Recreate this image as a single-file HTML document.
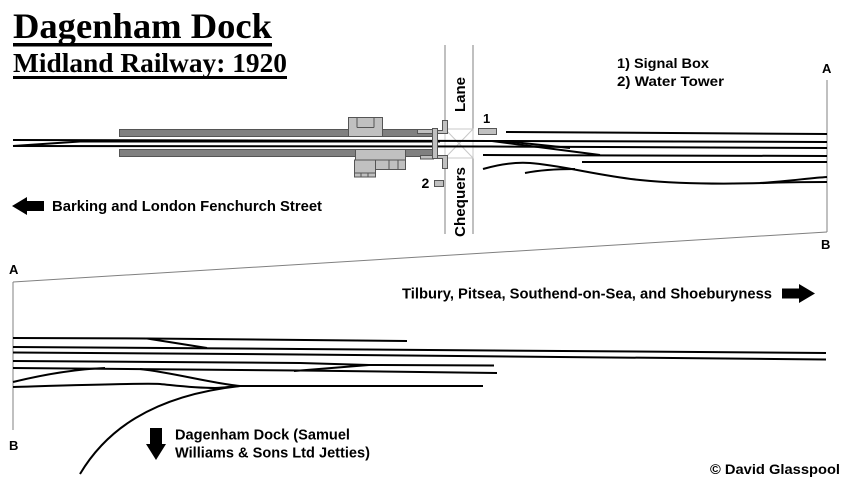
<!DOCTYPE html>
<html>
<head>
<meta charset="utf-8">
<style>
  html, body { margin: 0; padding: 0; background: #fff; }
  svg { display: block; }
  .s { font-family: "Liberation Sans", Arial, sans-serif; font-weight: bold; fill: #000; }
  .t { fill: none; stroke: #000; stroke-width: 2; }
  .f { fill: none; stroke: #808080; stroke-width: 1; }
</style>
</head>
<body>
<svg width="850" height="485" viewBox="0 0 850 485" xmlns="http://www.w3.org/2000/svg">
  <rect width="850" height="485" fill="#fff"/>

  <!-- Titles -->
  <text x="13" y="38" font-family="'Liberation Serif', 'Times New Roman', serif" font-weight="bold" font-size="36" textLength="259" lengthAdjust="spacingAndGlyphs">Dagenham Dock</text>
  <rect x="13" y="43" width="259" height="3.5" fill="#000"/>
  <text x="13" y="72" font-family="'Liberation Serif', 'Times New Roman', serif" font-weight="bold" font-size="27" textLength="274" lengthAdjust="spacingAndGlyphs">Midland Railway: 1920</text>
  <rect x="13" y="76" width="274" height="3" fill="#000"/>

  <!-- Key -->
  <text class="s" x="617" y="68" font-size="14" textLength="92" lengthAdjust="spacingAndGlyphs">1) Signal Box</text>
  <text class="s" x="617" y="86" font-size="14" textLength="107" lengthAdjust="spacingAndGlyphs">2) Water Tower</text>

  <!-- Section markers top -->
  <text class="s" x="822" y="73" font-size="13">A</text>
  <line class="f" x1="827" y1="80" x2="827" y2="232"/>
  <text class="s" x="821" y="249" font-size="13">B</text>
  <line class="f" x1="827" y1="232" x2="13" y2="282"/>
  <text class="s" x="9" y="274" font-size="13">A</text>
  <line class="f" x1="13" y1="282" x2="13" y2="430"/>
  <text class="s" x="9" y="450" font-size="13">B</text>

  <!-- Road: Chequers Lane -->
  <line x1="445" y1="45" x2="445" y2="234" stroke="#808080" stroke-width="1"/>
  <line x1="473" y1="45" x2="473" y2="234" stroke="#808080" stroke-width="1"/>
  <rect x="445" y="129" width="28" height="29" fill="none" stroke="#c8c8c8" stroke-width="1"/>
  <line x1="445" y1="129" x2="473" y2="158" stroke="#c8c8c8" stroke-width="1"/>
  <line x1="473" y1="129" x2="445" y2="158" stroke="#c8c8c8" stroke-width="1"/>
  <text class="s" font-size="15" transform="translate(465,112) rotate(-90)" textLength="35" lengthAdjust="spacingAndGlyphs">Lane</text>
  <text class="s" font-size="15" transform="translate(465,237) rotate(-90)" textLength="70" lengthAdjust="spacingAndGlyphs">Chequers</text>

  <!-- Platforms -->
  <rect x="119.5" y="129.5" width="314" height="7" fill="#808080" stroke="#555" stroke-width="1"/>
  <rect x="119.5" y="149.5" width="314" height="7" fill="#808080" stroke="#555" stroke-width="1"/>
  <!-- Buildings top -->
  <rect x="348.5" y="117.5" width="34" height="19" fill="#c0c0c0" stroke="#555" stroke-width="1"/>
  <line x1="357" y1="117.5" x2="357" y2="127.5" stroke="#555" stroke-width="1"/>
  <line x1="374" y1="117.5" x2="374" y2="127.5" stroke="#555" stroke-width="1"/>
  <line x1="357" y1="127.5" x2="374" y2="127.5" stroke="#555" stroke-width="1"/>
  <!-- Buildings bottom -->
  <rect x="355.5" y="149.5" width="50" height="20" fill="#c0c0c0" stroke="#555" stroke-width="1"/>
  <rect x="354.5" y="160" width="21" height="17" fill="#c0c0c0" stroke="#555" stroke-width="1"/>
  <line x1="375.5" y1="160" x2="405.5" y2="160" stroke="#555" stroke-width="1"/>
  <line x1="389" y1="160" x2="389" y2="169.5" stroke="#555" stroke-width="1"/>
  <line x1="398" y1="160" x2="398" y2="169.5" stroke="#555" stroke-width="1"/>
  <line x1="354.5" y1="173" x2="375.5" y2="173" stroke="#555" stroke-width="1"/>
  <line x1="361" y1="173" x2="361" y2="177" stroke="#555" stroke-width="1"/>
  <line x1="368" y1="173" x2="368" y2="177" stroke="#555" stroke-width="1"/>
  <!-- Station end fittings -->
  <rect x="417.5" y="129.5" width="16" height="4" fill="#c0c0c0" stroke="#555" stroke-width="1"/>
  <rect x="420.5" y="155.5" width="13" height="3.5" fill="#c0c0c0" stroke="#555" stroke-width="1"/>
  <path d="M437.5,130.5 H442.5 V120.5 H447.5 V133.5 H437.5 Z" fill="#c0c0c0" stroke="#555" stroke-width="1"/>
  <path d="M437.5,155.5 H447.5 V168.5 H442.5 V158.5 H437.5 Z" fill="#c0c0c0" stroke="#555" stroke-width="1"/>

  <!-- Main tracks top -->
  <polyline class="t" points="13,140 490,141 827,142"/>
  <polyline class="t" points="13,146 490,146.5 827,148"/>
  <path class="t" d="M13,146 L80,141.5 L440,141.5" stroke-width="1.5"/>
  <rect x="432.5" y="128.5" width="5" height="30" fill="#c0c0c0" stroke="#555" stroke-width="1"/>

  <!-- Signal box 1 & water tower 2 -->
  <rect x="478.5" y="128.5" width="18" height="6" fill="#c0c0c0" stroke="#555" stroke-width="1"/>
  <text class="s" x="483" y="123" font-size="13">1</text>
  <path d="M434.5,180.5 H443.5 V186.5 H434.5 Z" fill="#c0c0c0" stroke="#555" stroke-width="1"/>
  <text class="s" x="421.5" y="188" font-size="14">2</text>

  <!-- Top right tracks -->
  <line class="t" x1="506" y1="132" x2="827" y2="134"/>
  <line class="t" x1="492" y1="141" x2="600" y2="155"/>
  <line class="t" x1="503" y1="141" x2="570" y2="148"/>
  <line class="t" x1="483" y1="155" x2="827" y2="156"/>
  <line class="t" x1="582" y1="162" x2="827" y2="162"/>
  <path class="t" d="M483,169 C500,164 515,162 530,163 C560,165 600,176 640,180 C680,184 730,184 765,183 C790,182 810,182 827,182"/>
  <path class="t" d="M760,183 C790,181 810,178 827,177"/>
  <path class="t" d="M525,173 C540,170 555,169 575,169"/>

  <!-- Arrows and direction labels -->
  <path d="M12,206 L27,197 L27,201 L44,201 L44,211 L27,211 L27,215 Z" fill="#000"/>
  <text class="s" x="52" y="211" font-size="14.5" textLength="270" lengthAdjust="spacingAndGlyphs">Barking and London Fenchurch Street</text>
  <text class="s" x="402" y="298.5" font-size="14.5" textLength="370" lengthAdjust="spacingAndGlyphs">Tilbury, Pitsea, Southend-on-Sea, and Shoeburyness</text>
  <path d="M815,293.5 L799,284 L799,288.5 L782,288.5 L782,298.5 L799,298.5 L799,303 Z" fill="#000"/>

  <!-- Bottom tracks -->
  <polyline class="t" points="13,338 147,338.5 407,341"/>
  <path class="t" d="M147,338.5 L207,348"/>
  <polyline class="t" points="13,347 300,349 826,353"/>
  <polyline class="t" points="13,352.5 300,354.5 826,359.5"/>
  <polyline class="t" points="13,361 300,363 369,365 494,365.5"/>
  <polyline class="t" points="13,368 300,370.5 497,373"/>
  <path class="t" d="M294,371 L369,365"/>
  <path class="t" d="M13,382 C50,373 80,369 105,368"/>
  <path class="t" d="M140,369 C175,373 210,383 240,386"/>
  <path class="t" d="M13,387 C80,385 140,383 160,384 C180,386 195,388 215,388 C225,388 232,386 240,386 L483,386"/>
  <path class="t" d="M80,474 C105,432 150,396 240,386"/>

  <!-- Dock arrow + label -->
  <path d="M150,428 H162 V444 H166 L156,460 L146,444 H150 Z" fill="#000"/>
  <text class="s" x="175" y="439.5" font-size="14.5" textLength="175" lengthAdjust="spacingAndGlyphs">Dagenham Dock (Samuel</text>
  <text class="s" x="175" y="457.5" font-size="14.5" textLength="195" lengthAdjust="spacingAndGlyphs">Williams &amp; Sons Ltd Jetties)</text>

  <!-- Copyright -->
  <text class="s" x="710" y="474" font-size="14" textLength="130" lengthAdjust="spacingAndGlyphs">© David Glasspool</text>
</svg>
</body>
</html>
